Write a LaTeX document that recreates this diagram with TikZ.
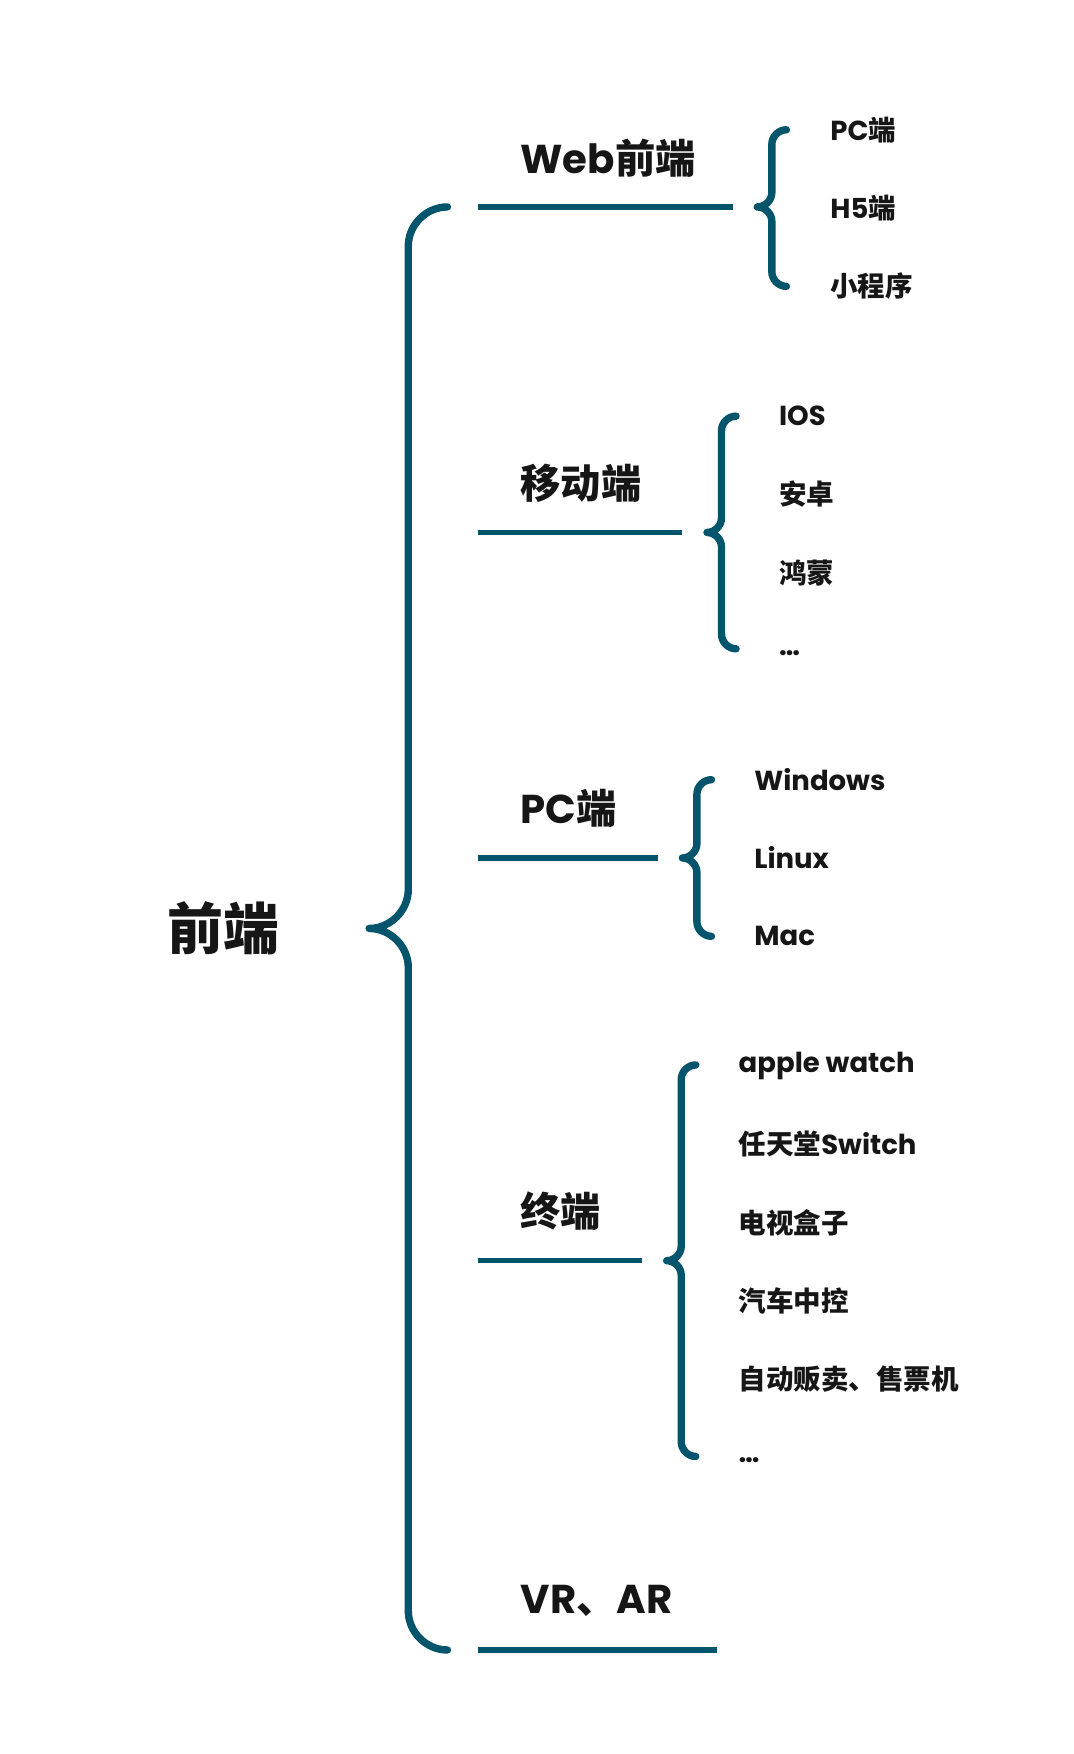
\documentclass[tikz,border=0pt]{standalone}
\usepackage{fontspec}
\setmainfont{Poppins}
\newfontfamily\cjk{Noto Sans CJK SC}
\newcommand\zh[1]{{\cjk #1}}
\definecolor{bracecol}{RGB}{4,84,108}
\definecolor{inkcol}{RGB}{22,22,22}

\begin{document}
\begin{tikzpicture}[x=0.5pt,y=-0.5pt]
    \tikzstyle{brace}=[draw=bracecol,line width=3.3pt,line cap=round,line join=round]
    \tikzstyle{uline}=[draw=bracecol,line width=2.3pt]
    \tikzstyle{head}=[anchor=west,inner sep=0pt,text=inkcol,font=\fontsize{18}{21}\selectfont\bfseries]
    \tikzstyle{item}=[anchor=west,inner sep=0pt,text=inkcol,font=\fontsize{12.3}{15}\selectfont\bfseries]

    \useasboundingbox (0,0) rectangle (960,1568);

    \node[inner sep=0pt,text=inkcol,font=\fontsize{25}{30}\selectfont\bfseries] (root) at (200,830) {\zh{前端}};

    % big brace
    \coordinate (root-tip) at (330,830);
    \draw[brace] (400,185) .. controls (381,185) and (365,201) .. (365,220) -- (365,795)
        .. controls (365,814) and (349,830) .. (root-tip)
        .. controls (349,830) and (365,846) .. (365,865) -- (365,1440)
        .. controls (365,1459) and (381,1475) .. (400,1475);

    % headings with their lines
    \foreach \n/\y/\t in {web/185/Web\zh{前端}, mob/476/\zh{移动端}, pc/767/PC\zh{端}, term/1127/\zh{终端}, vr/1475/VR\zh{、}AR} {
        \coordinate (\n-l) at (427,\y);
        \node[head] (\n) at (465,\y-44) {\t};
    }

    % small braces
    \foreach \n/\x/\yt/\ym/\yb in {web/690/116/185/256, mob/645/372/476/580, pc/623/697/767/837, term/609/952/1127/1302} {
        \coordinate (\n-tip) at (\x-13,\ym);
        \draw[brace] (\x+13,\yt) .. controls (\x+6,\yt) and (\x,\yt+6) .. (\x,\yt+13) -- (\x,\ym-13)
            .. controls (\x,\ym-6) and (\x-6,\ym) .. (\n-tip)
            .. controls (\x-6,\ym) and (\x,\ym+6) .. (\x,\ym+13) -- (\x,\yb-13)
            .. controls (\x,\yb-6) and (\x+6,\yb) .. (\x+13,\yb);
        \draw[uline] (\n-l) -- ([xshift=-11pt]\n-tip);
    }
    \coordinate (vr-r) at (641,1475);
    \draw[uline] (vr-l) -- (vr-r);

    % items
    \foreach \t [count=\k] in {PC\zh{端}, H5\zh{端}, \zh{小程序}} {
        \node[item] (web-\k) at (742,116+70*\k-70) {\t};
    }
    \foreach \t [count=\k] in {IOS, \zh{安卓}, \zh{鸿蒙}} {
        \node[item] (mob-\k) at (696,372+70*\k-70) {\t};
    }
    \node[item] (mob-4) at (696,584) {\ldots};
    \foreach \t [count=\k] in {Windows, Linux, Mac} {
        \node[item] (pc-\k) at (674,697+70*\k-70) {\t};
    }
    \foreach \t [count=\k] in {apple watch, \zh{任天堂}Switch, \zh{电视盒子}, \zh{汽车中控}, \zh{自动贩卖、售票机}} {
        \node[item] (term-\k) at (660,953+70*\k-70) {\t};
    }
    \node[item] (term-6) at (660,1305) {\ldots};
\end{tikzpicture}
\end{document}
